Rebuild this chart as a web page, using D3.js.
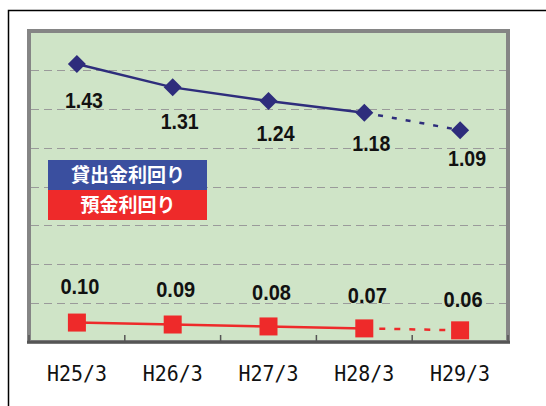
<!doctype html>
<html>
<head>
<meta charset="utf-8">
<style>
  body { margin: 0; background: #fff; }
  svg { display: block; }
  .val { font-family: "Liberation Sans", Arial, sans-serif; font-weight: bold; font-size: 22px; fill: #111; }
  .xlab text { font-family: "DejaVu Sans Mono", monospace; font-size: 22px; fill: #111; }
  .leg { font-family: "Noto Sans CJK JP", sans-serif; font-weight: bold; font-size: 19px; fill: #fff; }
</style>
<script src="https://d3js.org/d3.v7.min.js"></script>
</head>
<body>
<svg width="546" height="406"></svg>
<script>
var categories = ["H25/3", "H26/3", "H27/3", "H28/3", "H29/3"];
var loanRate = [1.43, 1.31, 1.24, 1.18, 1.09];
var depositRate = [0.10, 0.09, 0.08, 0.07, 0.06];
var legendNames = ["貸出金利回り", "預金利回り"];

var svg = d3.select("svg");
var plotL = 29, plotR = 508, plotT = 31, plotB = 342;

let xScale = d3.scaleBand().domain(categories).range([plotL, plotR]).padding(0);
let yScale = d3.scaleLinear().domain([0, 1.6]).range([plotB, plotT]);
var cx = function(d, i) { return xScale(categories[i]) + xScale.bandwidth() / 2; };

// outer frame
svg.append("path")
   .attr("d", "M8.5,410 V10.5 H550")
   .attr("fill", "none").attr("stroke", "#000").attr("stroke-width", 1.5);

// plot area
svg.append("rect")
   .attr("x", plotL).attr("y", plotT)
   .attr("width", plotR - plotL).attr("height", plotB - plotT)
   .attr("fill", "#cfe4c7")
   .attr("stroke", "#858585").attr("stroke-width", 4);

// gridlines
var g = svg.append("g");
g.selectAll(".grid")
 .data(yScale.ticks(8).filter(function(t) { return t > 0 && t < 1.6; }))
 .enter().append("line")
 .attr("x1", plotL + 2).attr("x2", plotR - 2)
 .attr("y1", function(d) { return Math.round(yScale(d)) + 0.5; })
 .attr("y2", function(d) { return Math.round(yScale(d)) + 0.5; })
 .attr("stroke", "#9a9a9a").attr("stroke-width", 1)
 .attr("stroke-dasharray", "8,5");

// bottom axis line and tick marks
svg.append("line")
   .attr("x1", plotL - 2).attr("x2", plotR + 2)
   .attr("y1", plotB).attr("y2", plotB)
   .attr("stroke", "#555").attr("stroke-width", 2.5);
svg.selectAll(".tk")
   .data(categories.map(function(c) { return xScale(c); }).concat([plotR]))
   .enter().append("line")
   .attr("x1", function(d) { return d; }).attr("x2", function(d) { return d; })
   .attr("y1", plotB - 7).attr("y2", plotB)
   .attr("stroke", "#555").attr("stroke-width", 1.5);

// x labels
var xa = svg.append("g").attr("class", "xlab")
   .attr("transform", "translate(0," + plotB + ")")
   .call(d3.axisBottom(xScale).tickSize(0).tickPadding(23));
xa.select(".domain").remove();
xa.selectAll("text").attr("textLength", 60).attr("lengthAdjust", "spacingAndGlyphs");

function drawSeries(vals, color, width, dash) {
  var pts = vals.map(function(v, i) { return [cx(v, i), yScale(v)]; });
  var line = d3.line();
  svg.append("path").attr("d", line(pts.slice(0, 4)))
     .attr("fill", "none").attr("stroke", color).attr("stroke-width", width);
  svg.append("path").attr("d", line(pts.slice(3)))
     .attr("fill", "none").attr("stroke", color).attr("stroke-width", width)
     .attr("stroke-dasharray", dash);
}

drawSeries(loanRate, "#2e2d7c", 2.5, "5,9");
drawSeries(depositRate, "#ee2a2a", 2.5, "6,9");

// markers
svg.selectAll(".dia")
   .data(loanRate).enter().append("path")
   .attr("d", "M0,-9 L9,0 L0,9 L-9,0 Z")
   .attr("transform", function(d, i) { return "translate(" + cx(d, i) + "," + yScale(d) + ")"; })
   .attr("fill", "#2e2d7c");
svg.selectAll(".sq")
   .data(depositRate).enter().append("rect")
   .attr("x", function(d, i) { return cx(d, i) - 9; })
   .attr("y", function(d) { return yScale(d) - 9; })
   .attr("width", 18).attr("height", 18)
   .attr("fill", "#ee2a2a");

// value labels
svg.selectAll(".lv")
   .data(loanRate).enter().append("text")
   .attr("class", "val")
   .attr("x", function(d, i) { return cx(d, i) + 7; })
   .attr("y", function(d, i) { return yScale(d) + 44 - 2 * i; })
   .attr("text-anchor", "middle")
   .attr("textLength", 38).attr("lengthAdjust", "spacingAndGlyphs")
   .text(function(d) { return d.toFixed(2); });
svg.selectAll(".dv")
   .data(depositRate).enter().append("text")
   .attr("class", "val")
   .attr("x", function(d, i) { return cx(d, i) + 3; })
   .attr("y", function(d, i) { return yScale(d) - 29 + 1.3 * i; })
   .attr("text-anchor", "middle")
   .attr("textLength", 39).attr("lengthAdjust", "spacingAndGlyphs")
   .text(function(d) { return d.toFixed(2); });

// legend boxes
var legColors = ["#3a4f9f", "#ee2a2a"];
var leg = svg.selectAll(".leg-g").data(legendNames).enter().append("g")
   .attr("transform", function(d, i) { return "translate(48," + (160 + i * 30) + ")"; });
leg.append("rect").attr("width", 159).attr("height", 30)
   .attr("fill", function(d, i) { return legColors[i]; });
leg.append("text").attr("class", "leg")
   .attr("x", 80).attr("y", 22)
   .attr("text-anchor", "middle")
   .text(function(d) { return d; });
</script>
</body>
</html>
